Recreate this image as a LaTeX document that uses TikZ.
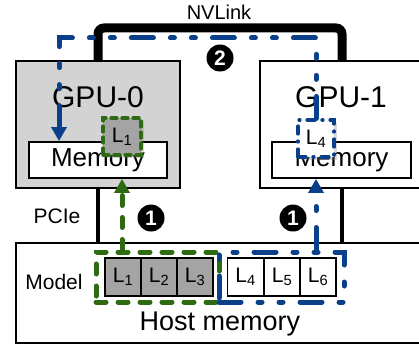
\documentclass[tikz,border=0pt]{standalone}
\usepackage{fontspec}
\setmainfont{Liberation Sans}
\usetikzlibrary{arrows.meta,positioning,calc,shadows}
\definecolor{gpufill}{HTML}{D3D3D3}
\definecolor{layerfill}{HTML}{A4A4A4}
\definecolor{pathgreen}{HTML}{2E6A12}
\definecolor{pathblue}{HTML}{0A3F8A}
\tikzset{
  box/.style={draw=black, line width=1.9pt, inner sep=0pt},
  layer/.style={draw=black, line width=1.7pt, minimum width=36pt, minimum height=38pt,
                inner sep=0pt, font=\fontsize{21}{21}\selectfont},
  greendash/.style={draw=pathgreen, line width=5pt, line cap=round,
                    dash pattern=on 10pt off 12pt},
  bluedash/.style={draw=pathblue, line width=5pt, line cap=round,
                   dash pattern=on 22pt off 17pt on 4pt off 17pt on 4pt off 17pt},
  stepno/.style={circle, fill=black, text=white, inner sep=0pt, minimum size=27pt,
                 font=\fontsize{21}{21}\selectfont\bfseries},
  tip/.style={-{Triangle[length=14pt,width=15pt]}}
}

\begin{document}
\begin{tikzpicture}[x=1pt,y=-1pt]
        \useasboundingbox (0,0) rectangle (419,345);

        \node[box,fill=gpufill,minimum width=164pt,minimum height=127pt] (gpu0) at (98,124.5) {};
        \node[box,fill=white,minimum width=164pt,minimum height=127pt] (gpu1) at (342,124.5) {};
        \node[box,fill=white,minimum width=414pt,minimum height=100pt] (host) at (223,293) {};

        \node[font=\fontsize{30}{30}\selectfont] (gpu0lbl) at (98,97) {GPU-0};
        \node[font=\fontsize{30}{30}\selectfont] (gpu1lbl) at (341,97) {GPU-1};
        \node[box,fill=white,minimum width=138pt,minimum height=36pt,font=\fontsize{26}{26}\selectfont] (mem0) at (98,160) {Memory};
        \node[box,fill=white,minimum width=139pt,minimum height=36pt,font=\fontsize{26}{26}\selectfont] (mem1) at (341.5,160) {Memory};

        % NVLink and PCIe
        \coordinate (nvl) at (220,28);
        \draw[line width=9pt,rounded corners=6pt] (gpu0.north) |- (nvl) -| (gpu1.north);
        \node[font=\fontsize{20}{20}\selectfont] (nvlbl) at (219,12) {NVLink};
        \draw[line width=3.2pt] (gpu0.south) -- (gpu0.south |- host.north);
        \draw[line width=3.2pt] (gpu1.south) -- (gpu1.south |- host.north);
        \node[font=\fontsize{21}{21}\selectfont] (pcie) at (57,216) {PCIe};

        % model layers in host memory
        \node[font=\fontsize{21}{21}\selectfont] (model) at (54,282) {Model};
        \foreach \i/\x in {1/123,2/159,3/195} {
          \node[layer,fill=layerfill] (h\i) at (\x,277) {L\textsubscript{\i}};
        }
        \foreach \i/\x in {4/245.5,5/282,6/318} {
          \node[layer,fill=white] (h\i) at (\x,277) {L\textsubscript{\i}};
        }
        \node[greendash,minimum width=123pt,minimum height=50pt] (ggrp) at (157.5,277) {};
        \node[bluedash,minimum width=125pt,minimum height=50pt] (bgrp) at (281.5,277) {};
        \node[font=\fontsize{27}{27}\selectfont] (hostlbl) at (220,324) {Host memory};

        % loaded layers in GPU memory
        \node[layer,greendash,line width=3.2pt,fill=layerfill,minimum width=38pt,minimum height=37pt,
              dash pattern=on 6pt off 5pt,drop shadow={opacity=0.3}] (g1) at (122,136.5) {L\textsubscript{1}};
        \node[layer,bluedash,line width=3.2pt,fill=white,minimum width=36pt,minimum height=37pt,
              dash pattern=on 8pt off 7pt on 1pt off 7pt,drop shadow={opacity=0.3}] (g4) at (316,138.5) {L\textsubscript{4}};

        % transfers
        \draw[greendash,tip] (g1 |- ggrp.north) -- (g1 |- mem0.south);
        \draw[bluedash,tip] (g4 |- bgrp.north) -- (g4 |- mem1.south);
        \coordinate (bend) at (59,38);
        \draw[bluedash,tip] (g4.north) |- (bend) -- (bend |- mem0.north);

        \node[stepno] (s1a) at (151,218) {1};
        \node[stepno] (s1b) at (293,218) {1};
        \node[stepno] (s2) at (220,58) {2};
      \end{tikzpicture}
\end{document}
